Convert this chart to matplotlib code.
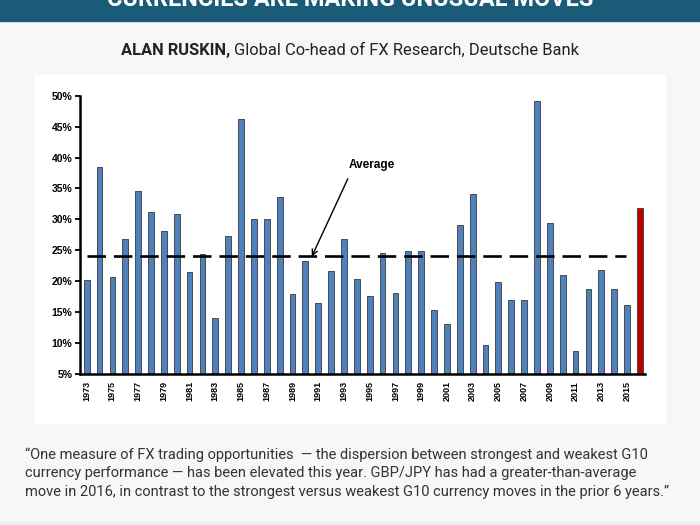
"""Dispersion between strongest and weakest G10 currency moves, 1973-2016."""
import matplotlib
matplotlib.use("Agg")
import matplotlib.pyplot as plt
from matplotlib.patches import Rectangle

years = list(range(1973, 2017))
dispersion = [
    20.2, 38.4, 20.7, 26.9, 34.6, 31.2, 28.2, 30.9, 21.5, 24.4,
    14.1, 27.3, 46.2, 30.1, 30.1, 33.7, 17.9, 23.3, 16.4, 21.7,
    26.8, 20.3, 17.6, 24.5, 18.1, 24.9, 24.9, 15.3, 13.1, 29.1,
    34.1, 9.7, 19.8, 17.0, 17.0, 49.2, 29.4, 21.0, 8.7, 18.8,
    21.8, 18.8, 16.1, 31.8,
]
average = 24.0
y_ticks = list(range(5, 55, 5))
tick_years = years[:-1:2]

BG = "#f7f7f7"
BANNER = "#1a5c78"
BLUE = "#4f81bd"
RED = "#c00000"

W, H = 700, 525
fig = plt.figure(figsize=(7, 5.25), dpi=100, facecolor=BG)

# header banner (title cropped at the top edge, as in the source)
fig.patches.append(Rectangle((0, 1 - 21 / H), 1, 21 / H, transform=fig.transFigure,
                             color=BANNER, zorder=0))
fig.text(0.5, 1 - 6.5 / H, "CURRENCIES ARE MAKING UNUSUAL MOVES", ha="center",
         va="baseline", color="white", fontsize=16.9, fontweight="bold", family="Roboto")
# thin strip at the very bottom
fig.patches.append(Rectangle((0, 0), 1, 3 / H, transform=fig.transFigure,
                             color="#ececec", zorder=0))

# white panel behind the chart
fig.patches.append(Rectangle((35 / W, 1 - 423 / H), 630 / W, 348 / H,
                             transform=fig.transFigure, color="white", zorder=0))

# subtitle: bold name + regular title, centred together
sub_y = 1 - 50 / H
t1 = fig.text(0, sub_y, "ALAN RUSKIN, ", fontsize=11.9, fontweight="bold",
              family="Roboto", color="#222222", va="center")
t2 = fig.text(0, sub_y, "Global Co-head of FX Research, Deutsche Bank", fontsize=11.9,
              family="Roboto", color="#222222", va="center")
r = fig.canvas.get_renderer()
w1 = t1.get_window_extent(r).width
w2 = t2.get_window_extent(r).width
x0 = (W - (w1 + w2)) / 2
t1.set_x(x0 / W)
t2.set_x((x0 + w1) / W)

quote = [
    "\u201cOne measure of FX trading opportunities  \u2014 the dispersion between strongest and weakest G10",
    "currency performance \u2014 has been elevated this year. GBP/JPY has had a greater-than-average",
    "move in 2016, in contrast to the strongest versus weakest G10 currency moves in the prior 6 years.\u201d",
]
for line, ypx in zip(quote, [455, 473.5, 492]):
    fig.text(25 / W, 1 - ypx / H, line, fontsize=10.5, family="Roboto",
             color="#333333", va="center")

# chart
ax = fig.add_axes([80 / W, (H - 374) / H, 565 / W, (374 - 95.7) / H])
ax.set_zorder(2)
ax.set_facecolor("white")
idx = list(range(len(years)))
colors = [BLUE] * (len(years) - 1) + [RED]
ax.bar(idx, dispersion, bottom=0, width=0.45, color=colors, edgecolor="#3a3a3a",
       linewidth=0.6, zorder=2)

ax.hlines(average, 0, 41.9, colors="black", linewidth=1.9,
          linestyles=(0, (7.0, 3.0)), zorder=3)
ax.annotate("Average", xy=(17.5, average), xytext=(20.4, 38.8),
            fontsize=8.5, fontweight="bold", family="Liberation Sans",
            ha="left", va="center",
            arrowprops=dict(arrowstyle="->", color="black", lw=1.0,
                            relpos=(0.05, 0.0), shrinkA=4, shrinkB=0,
                            mutation_scale=10))

ax.set_xlim(-0.52, 43.4)
ax.set_ylim(5, 50)
ax.set_yticks(y_ticks)
ax.set_yticklabels([f"{v}%" for v in y_ticks], fontsize=7.5, fontweight="bold",
                   family="Liberation Sans")
ax.set_xticks([years.index(y) for y in tick_years])
ax.set_xticklabels([str(y) for y in tick_years], rotation=90, fontsize=6.5,
                   fontweight="bold", family="Liberation Sans")
ax.tick_params(axis="x", length=0, pad=5)
ax.tick_params(axis="y", direction="out", length=3.5, width=1.3, pad=2)
for side in ["top", "right"]:
    ax.spines[side].set_visible(False)
for side in ["left", "bottom"]:
    ax.spines[side].set_linewidth(1.8)
    ax.spines[side].set_zorder(4)

fig.savefig("out.png", dpi=100, facecolor=BG)
